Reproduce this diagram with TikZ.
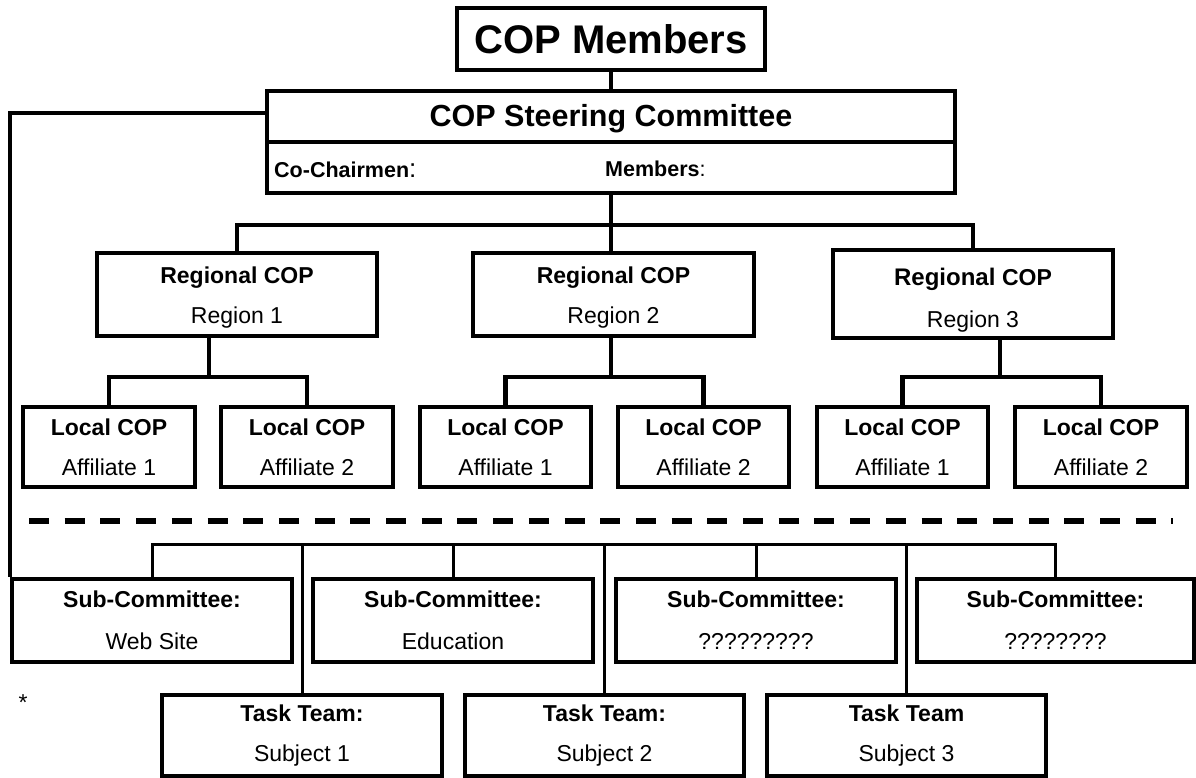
\documentclass[tikz,border=0pt]{standalone}
\usepackage{fontspec}
\setmainfont{Liberation Sans}
\newcommand{\pxfont}[2]{\fontsize{#1}{#2}\selectfont}
\newcommand{\lift}[1]{\rule{0pt}{#1}}
\begin{document}
\begin{tikzpicture}[x=1pt,y=-1pt,
  box/.style={draw, line width=4pt, inner sep=0pt, align=center, font=\pxfont{23}{40}},
  link/.style={line width=4.5pt},
  sublink/.style={line width=3pt},
  divider/.style={line width=6pt, dash pattern=on 20pt off 15.7pt}]
\useasboundingbox (0,0) rectangle (1196,778);

% top of the organisation
\node[box, minimum width=308pt, minimum height=62pt, font=\pxfont{40}{44}\bfseries] (members) at (611,39) {COP Members};
\node[box, minimum width=688pt, minimum height=51pt, font=\pxfont{30.5}{34}\bfseries] (steer) at (611,116.5) {\lift{26pt}COP Steering Committee};
\node[box, minimum width=688pt, minimum height=51pt] (chair) at (611,167.5) {};
\node[anchor=west, inner sep=0pt, font=\pxfont{21.5}{24}] (cochair) at (274,170) {\textbf{Co-Chairmen}{\pxfont{26}{24}:}};
\node[anchor=west, inner sep=0pt, font=\pxfont{21.5}{24}] (steermembers) at (605,169) {\textbf{Members}:};

% regional level
\node[box, minimum width=280pt, minimum height=83pt] (reg1) at (237,294.5) {\lift{23pt}\textbf{Regional COP}\\Region 1};
\node[box, minimum width=281pt, minimum height=83pt] (reg2) at (613.5,294.5) {\lift{23pt}\textbf{Regional COP}\\Region 2};
\node[box, minimum width=280pt, minimum height=88pt] (reg3) at (973,294) {\lift{30pt}{\pxfont{24}{40}\textbf{Regional} }\textbf{COP}\\[2pt]Region 3};

% local level
\node[box, minimum width=172pt, minimum height=80pt] (loc1) at (109,447) {\textbf{Local COP}\\Affiliate 1};
\node[box, minimum width=172pt, minimum height=80pt] (loc2) at (307,447) {\textbf{Local COP}\\Affiliate 2};
\node[box, minimum width=171pt, minimum height=80pt] (loc3) at (505.5,447) {\textbf{Local COP}\\Affiliate 1};
\node[box, minimum width=171pt, minimum height=80pt] (loc4) at (703.5,447) {\textbf{Local COP}\\Affiliate 2};
\node[box, minimum width=171pt, minimum height=80pt] (loc5) at (902.5,447) {\textbf{Local COP}\\Affiliate 1};
\node[box, minimum width=172pt, minimum height=80pt] (loc6) at (1101,447) {\textbf{Local COP}\\Affiliate 2};

% sub-committees
\node[box, minimum width=280pt, minimum height=83pt] (sub1) at (152,620.5) {\textbf{Sub-Committee:}\\[2pt]Web Site};
\node[box, minimum width=280pt, minimum height=83pt] (sub2) at (453,620.5) {\textbf{Sub-Committee:}\\[2pt]Education};
\node[box, minimum width=280pt, minimum height=83pt] (sub3) at (756,620.5) {\textbf{Sub-Committee:}\\[2pt]?????????};
\node[box, minimum width=277pt, minimum height=83pt] (sub4) at (1055.5,620.5) {\textbf{Sub-Committee:}\\[2pt]????????};

% task teams
\node[box, minimum width=280pt, minimum height=81pt] (task1) at (302,735.5) {\textbf{Task Team:}\\Subject 1};
\node[box, minimum width=279pt, minimum height=81pt] (task2) at (604.5,735.5) {\textbf{Task Team:}\\Subject 2};
\node[box, minimum width=279pt, minimum height=81pt] (task3) at (906.5,735.5) {\textbf{Task Team}\\Subject 3};

\node[inner sep=0pt, font=\pxfont{23}{26}] (star) at (23,703) {*};

% bus coordinates
\coordinate (rbus) at (611,225);
\coordinate (r1bus) at (209,377);
\coordinate (r2bus) at (611,377);
\coordinate (r3bus) at (1000,377);
\coordinate (sbus) at (600,544);
\coordinate (dashL) at (29,521);
\coordinate (dashR) at (1173,521);

% upper connectors
\draw[link] (members.south) -- (members.south |- steer.north);
\draw[link] (chair.south) -- (rbus);
\draw[link] (reg1.north) |- (rbus) -| (reg3.north);
\draw[link] (rbus) -- (rbus |- reg2.north);
\draw[link] (r1bus |- reg1.south) -- (r1bus);
\draw[link] (loc1.north) |- (r1bus) -| (loc2.north);
\draw[link] (r2bus |- reg2.south) -- (r2bus);
\draw[link] (loc3.north) |- (r2bus) -| (loc4.north);
\draw[link] (r3bus |- reg3.south) -- (r3bus);
\draw[link] (loc5.north) |- (r3bus) -| (loc6.north);

% steering committee to the sub-committees
\draw[link] ([yshift=3.5pt]steer.west) -| (sub1.north west);

% separator
\draw[divider] (dashL) -- (dashR);

% lower bus
\draw[sublink] (sub1.north) |- (sbus) -| (sub4.north);
\draw[sublink] (sub2.north) -- (sub2.north |- sbus);
\draw[sublink] (sub3.north) -- (sub3.north |- sbus);
\draw[sublink] (task1.north) -- (task1.north |- sbus);
\draw[sublink] (task2.north) -- (task2.north |- sbus);
\draw[sublink] (task3.north) -- (task3.north |- sbus);
\end{tikzpicture}
\end{document}
